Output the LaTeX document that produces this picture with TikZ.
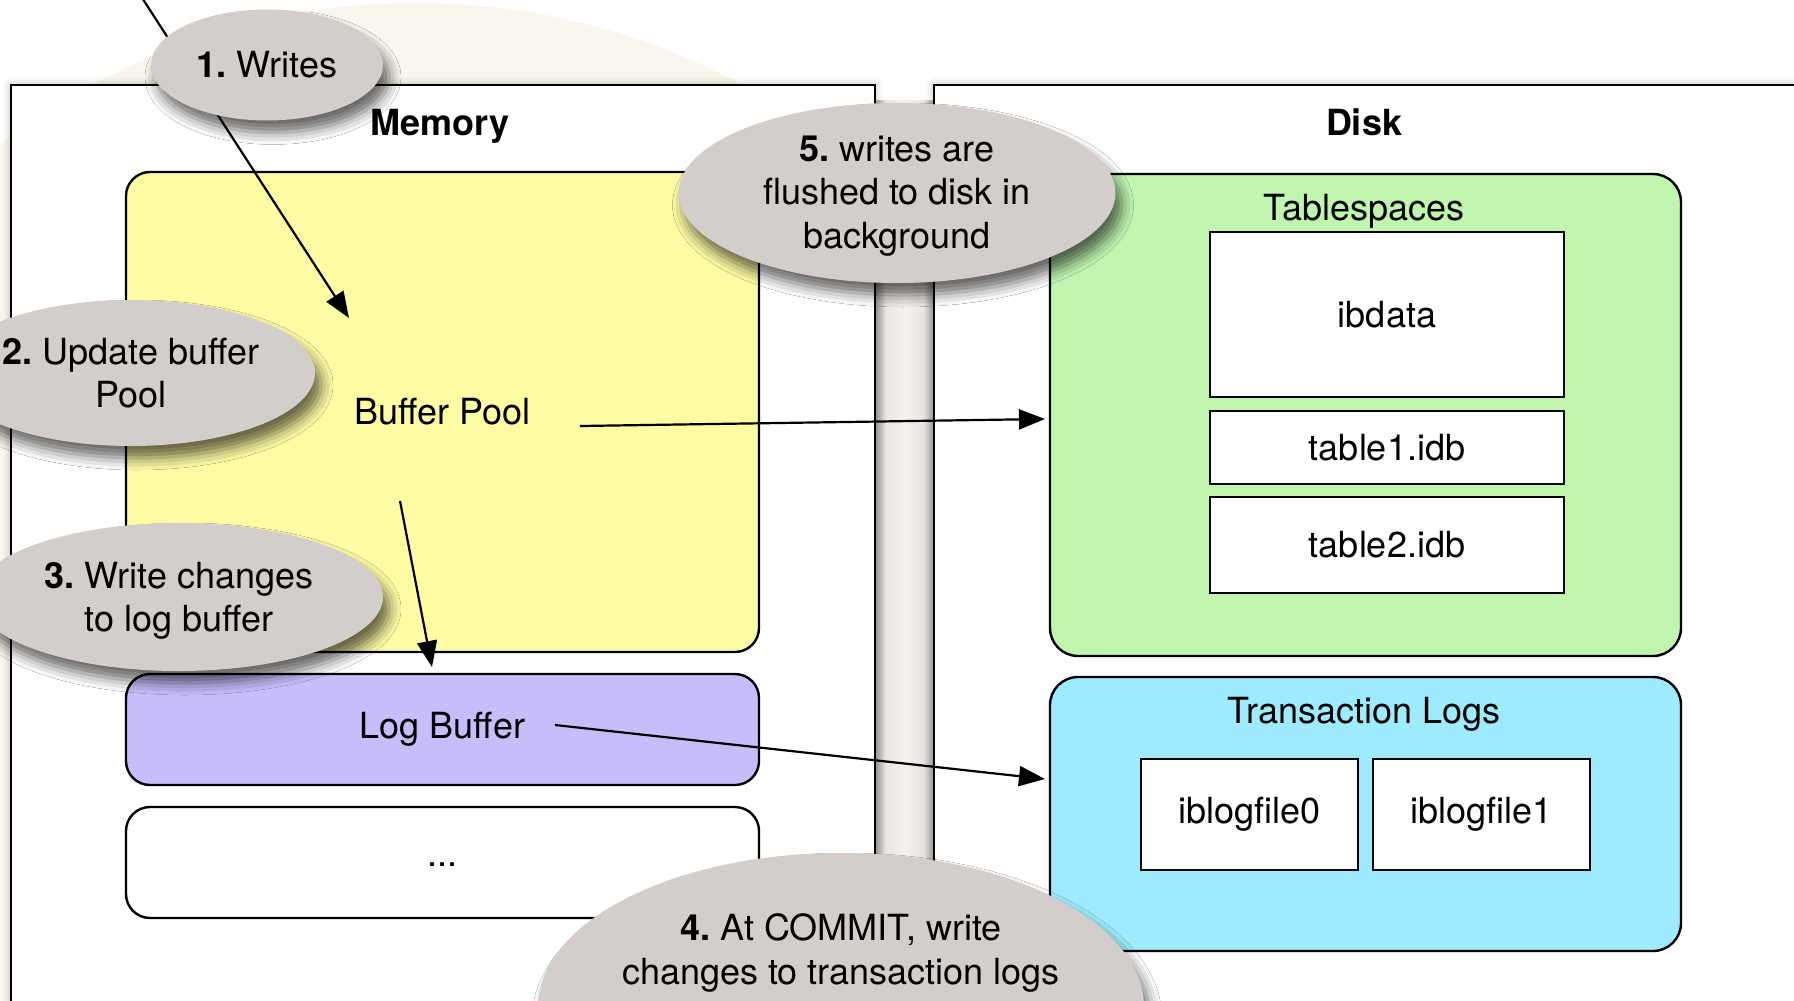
\documentclass[tikz,border=0pt]{standalone}
\usepackage{fontspec}
\setmainfont{TeX Gyre Heros}
\usepackage{xcolor}
\usetikzlibrary{shapes,arrows.meta,positioning,shadows.blur}

\definecolor{bpyellow}{HTML}{FDFBA4}
\definecolor{lbpurple}{HTML}{C8BDFB}
\definecolor{tsgreen}{HTML}{C0F5B0}
\definecolor{tlblue}{HTML}{9DEBFC}
\definecolor{bubgray}{HTML}{D3CECB}
\definecolor{pilledge}{HTML}{9E9A98}
\definecolor{pillmid}{HTML}{E9E5E3}
\definecolor{pilllight}{HTML}{F4F1EF}
\definecolor{haze}{HTML}{F9F6EE}
\pgfdeclarehorizontalshading{pillar}{100bp}{color(0bp)=(pilledge); color(25bp)=(pilledge);
  color(33bp)=(pillmid); color(50bp)=(pilllight); color(67bp)=(pillmid);
  color(75bp)=(pilledge); color(100bp)=(pilledge)}
\frenchspacing

\begin{document}
\begin{tikzpicture}[x=0.5pt,y=-0.5pt,
    every node/.style={font=\fontsize{18pt}{21.6pt}\selectfont},
    frame/.style={draw, line width=1.3pt, fill=white, inner sep=0pt,
      blur shadow={shadow xshift=0pt, shadow yshift=0pt, shadow blur radius=4pt, shadow opacity=30}},
    box/.style={draw, line width=1.2pt, rounded corners=12pt, inner sep=0pt, minimum width=316.5pt},
    file/.style={draw, line width=1.2pt, fill=white, inner sep=0pt},
    bubble/.style={ellipse, fill=bubgray, inner sep=0pt, align=center,
      blur shadow={shadow xshift=3pt, shadow yshift=-6pt, shadow blur radius=6pt, shadow opacity=60}},
    arr/.style={-{Triangle[length=13pt,width=10pt]}, line width=1.1pt}]
  \useasboundingbox (0,0) rectangle (1794,1001);
  \clip (0,0) rectangle (1794,1001);

  % faint backdrop
  \fill[haze] (417,689) circle[radius=343pt];

  % memory and disk frames
  \node[frame, minimum width=432pt, minimum height=465pt] (memory) at (443,550) {};
  \node[frame, minimum width=438pt, minimum height=465pt] (disk) at (1372,550) {};
  \shade[shading=pillar] (876.5,100) rectangle (932.5,1010);
  \node[font=\fontsize{18pt}{21.6pt}\selectfont\bfseries] (memtitle) at (440,126) {Memory};
  \node[font=\fontsize{18pt}{21.6pt}\selectfont\bfseries] (disktitle) at (1364,122) {Disk};

  % memory side
  \node[box, fill=bpyellow, minimum height=240pt] (bpool) at (442.5,412) {Buffer Pool};
  \node[box, fill=lbpurple, minimum height=55.5pt] (logbuf) at (442.5,729.5) {Log Buffer};
  \node[box, fill=white, minimum height=55.5pt] (other) at (442.5,862.5) {\raisebox{-4pt}{...}};

  % disk side
  \node[box, fill=tsgreen, minimum width=315.5pt, minimum height=241pt, rounded corners=14pt] (tblspc) at (1365.5,415) {};
  \node (tbltitle) at (1364,211) {Tablespaces};
  \node[file, minimum width=177pt, minimum height=82.5pt] (ibdata) at (1387,314.5) {ibdata};
  \node[file, minimum width=177pt, minimum height=36.5pt] (table1) at (1387,447.5) {table1.idb};
  \node[file, minimum width=177pt, minimum height=48pt] (table2) at (1387,545) {table2.idb};

  \node[box, fill=tlblue, minimum width=315.5pt, minimum height=137pt, rounded corners=14pt] (txlogs) at (1365.5,814) {};
  \node (txtitle) at (1364,714) {Transaction Logs};
  \node[file, minimum width=108.5pt, minimum height=55.5pt] (logf0) at (1249.5,814.5) {iblogfile0};
  \node[file, minimum width=108.5pt, minimum height=55.5pt] (logf1) at (1481.5,814.5) {iblogfile1};

  % arrow ends
  \coordinate (w1a) at (137,-10);
  \coordinate (w1b) at (349,318);
  \coordinate (bpout) at (580,426);
  \coordinate (tsin) at (1045,419);
  \coordinate (bpdown) at (400,501);
  \coordinate (lbin) at (432,667);
  \coordinate (lbout) at (555,725);
  \coordinate (tlin) at (1045,779);

  \draw[arr] (w1a) -- (w1b);
  \draw[arr] (bpout) -- (tsin);
  \draw[arr] (bpdown) -- (lbin);
  \draw[arr] (lbout) -- (tlin);

  % step bubbles
  \node[bubble, minimum width=116pt, minimum height=55.5pt] (b1) at (267,65) {\textbf{1.} Writes};
  \node[bubble, minimum width=184pt, minimum height=73pt] (b2) at (131,373) {\textbf{2.} Update buffer\\Pool};
  \node[bubble, minimum width=204pt, minimum height=74pt] (b3) at (179,597) {};
  \node[align=center] (b3txt) at (179,601) {\textbf{3.} Write changes\\to log buffer};
  \node[bubble, minimum width=218.5pt, minimum height=90pt] (b5) at (897,193) {};
  \node[align=center] (b5txt) at (897,196) {\textbf{5.} writes are\\flushed to disk in\\background};
  \node[bubble, minimum width=303pt, minimum height=154pt] (b4) at (841,1007) {};
  \node[align=center] (b4txt) at (841,953) {\textbf{4.} At COMMIT, write\\changes to transaction logs};
\end{tikzpicture}
\end{document}
